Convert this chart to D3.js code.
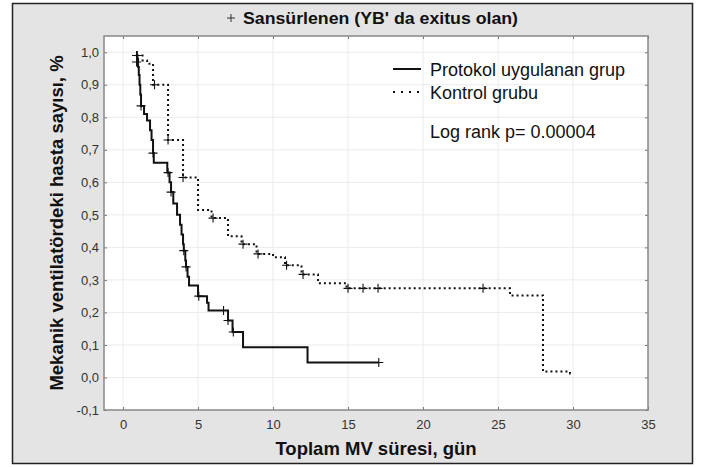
<!DOCTYPE html>
<html><head><meta charset="utf-8">
<script src="https://cdn.jsdelivr.net/npm/d3@7"></script>
<style>
html,body{margin:0;padding:0;background:#fff;}
svg{display:block;}
text{font-family:"Liberation Sans",Arial,sans-serif;}
</style></head>
<body>
<svg id="chart" width="703" height="467"></svg>
<script>
// ---- data ----
const titleText = "Sansürlenen (YB' da exitus olan)";
const xLabel = "Toplam MV süresi, gün";
const yLabel = "Mekanik ventilatördeki hasta sayısı, %";
const seriesNames = ["Protokol uygulanan grup", "Kontrol grubu"];
const logRankText = "Log rank p= 0.00004";
const xTicks = [0, 5, 10, 15, 20, 25, 30, 35];
const yTicks = [-0.1, 0, 0.1, 0.2, 0.3, 0.4, 0.5, 0.6, 0.7, 0.8, 0.9, 1.0];

// Protokol group: step times and survival after each step (last = end of follow-up)
const protokolT = [0.85, 0.95, 1.0, 1.05, 1.1, 1.15, 1.2, 1.4, 1.6, 1.8, 1.9, 2.0, 2.05, 2.95, 3.1, 3.2, 3.35, 3.6, 3.8, 3.9, 4.0, 4.05, 4.15, 4.2, 4.3, 4.4, 5.0, 5.6, 5.7, 7.0, 7.3, 8.0, 12.3, 17.05];
const protokolS = [0.99, 0.98, 0.955, 0.93, 0.90, 0.87, 0.835, 0.81, 0.79, 0.76, 0.73, 0.69, 0.66, 0.63, 0.60, 0.57, 0.535, 0.50, 0.47, 0.44, 0.41, 0.39, 0.36, 0.34, 0.31, 0.283, 0.25, 0.23, 0.206, 0.175, 0.14, 0.093, 0.046, 0.046];
const protokolCensT = [0.9, 0.9, 1.2, 2.0, 3.0, 3.2, 4.05, 4.2, 5.05, 6.7, 7.0, 7.35, 17.05];
const protokolCensS = [0.99, 0.97, 0.835, 0.69, 0.63, 0.57, 0.39, 0.34, 0.25, 0.206, 0.175, 0.14, 0.046];

// Kontrol group
const kontrolT = [0.9, 1.3, 1.6, 2.0, 3.0, 4.0, 5.0, 5.9, 7.0, 7.9, 8.9, 10.0, 10.8, 11.9, 13.0, 14.9, 25.8, 28.0, 29.8, 30.0];
const kontrolS = [0.99, 0.975, 0.965, 0.90, 0.73, 0.615, 0.515, 0.49, 0.434, 0.41, 0.38, 0.37, 0.345, 0.317, 0.29, 0.274, 0.252, 0.018, 0.012, 0.012];
const kontrolCensT = [0.95, 2.1, 3.0, 4.0, 6.0, 8.0, 9.0, 10.9, 12.0, 15.0, 16.0, 17.0, 24.0];
const kontrolCensS = [0.99, 0.90, 0.73, 0.615, 0.49, 0.41, 0.38, 0.345, 0.317, 0.274, 0.274, 0.274, 0.274];

// ---- drawing ----
const svg = d3.select("#chart");
const W = 703, H = 467;
const plot = {left: 104, right: 648, top: 36, bottom: 410};

svg.append("rect").attr("x", 0).attr("y", 0).attr("width", W).attr("height", H).attr("fill", "#ffffff");
svg.append("rect").attr("x", 12.5).attr("y", 3.5).attr("width", 680).attr("height", 460)
  .attr("fill", "#e4e4e4").attr("stroke", "#222").attr("stroke-width", 1.5);

const x = d3.scaleLinear().domain([-1.27, 35]).range([plot.left, plot.right]);
const y = d3.scaleLinear().domain([-0.1, 1.05]).range([plot.bottom, plot.top]);

svg.append("rect").attr("x", plot.left).attr("y", plot.top)
  .attr("width", plot.right - plot.left).attr("height", plot.bottom - plot.top).attr("fill", "#fff");

// grid
const grid = svg.append("g");
grid.selectAll(".gx").data(xTicks.filter(d => d > -1.27 && d < 35)).join("line")
  .attr("x1", d => x(d)).attr("x2", d => x(d)).attr("y1", plot.top).attr("y2", plot.bottom)
  .attr("stroke", "#ebebeb").attr("stroke-width", 1);
grid.selectAll(".gy").data(yTicks.filter(d => d > -0.1)).join("line")
  .attr("x1", plot.left).attr("x2", plot.right).attr("y1", d => y(d)).attr("y2", d => y(d))
  .attr("stroke", "#ebebeb").attr("stroke-width", 1);

// axes (ticks inward)
const fmt = d => d3.format(".1f")(d).replace(".", ",").replace("−", "-");
const axB = svg.append("g").attr("transform", `translate(0,${plot.bottom})`)
  .call(d3.axisBottom(x).tickValues(xTicks).tickSize(-3).tickPadding(10).tickFormat(d3.format("d")));
const axL = svg.append("g").attr("transform", `translate(${plot.left},0)`)
  .call(d3.axisLeft(y).tickValues(yTicks).tickSize(-3).tickPadding(5).tickFormat(fmt));
const axT = svg.append("g").attr("transform", `translate(0,${plot.top})`)
  .call(d3.axisTop(x).tickValues(xTicks).tickSize(-3).tickFormat(""));
const axR = svg.append("g").attr("transform", `translate(${plot.right},0)`)
  .call(d3.axisRight(y).tickValues(yTicks).tickSize(-3).tickFormat(""));
[axB, axL, axT, axR].forEach(a => {
  a.select(".domain").remove();
  a.selectAll(".tick line").attr("stroke", "#777");
  a.selectAll("text").attr("fill", "#333").style("font-size", "13px").style("font-family", '"Liberation Sans",Arial,sans-serif');
});

// plot frame
svg.append("rect").attr("x", plot.left).attr("y", plot.top)
  .attr("width", plot.right - plot.left).attr("height", plot.bottom - plot.top)
  .attr("fill", "none").attr("stroke", "#888").attr("stroke-width", 1.5);

// curves
const line = d3.line().x(d => x(d[0])).y(d => y(d[1])).curve(d3.curveStepAfter);
const kontrol = kontrolT.map((t, i) => [t, kontrolS[i]]);
const protokol = protokolT.map((t, i) => [t, protokolS[i]]);

svg.append("path").datum(kontrol).attr("d", line).attr("fill", "none")
  .attr("stroke", "#111").attr("stroke-width", 2).attr("stroke-dasharray", "2,3");
svg.append("path").datum(protokol).attr("d", line).attr("fill", "none")
  .attr("stroke", "#111").attr("stroke-width", 2);

function plus(g, pts) {
  const s = 4.5;
  g.selectAll("path.c").data(pts).join("path")
    .attr("d", d => `M${x(d[0]) - s},${y(d[1])}H${x(d[0]) + s}M${x(d[0])},${y(d[1]) - s}V${y(d[1]) + s}`)
    .attr("stroke", "#111").attr("stroke-width", 1.1).attr("fill", "none");
}
plus(svg.append("g"), protokolCensT.map((t, i) => [t, protokolCensS[i]]));
plus(svg.append("g"), kontrolCensT.map((t, i) => [t, kontrolCensS[i]]));

// title
const tg = svg.append("g");
tg.append("path").attr("d", "M227,18H235M231,14V22").attr("stroke", "#333").attr("stroke-width", 1);
tg.append("text").attr("x", 243).attr("y", 24).attr("font-weight", "bold").attr("font-size", 16)
  .attr("textLength", 275).attr("lengthAdjust", "spacingAndGlyphs")
  .attr("fill", "#111").text(titleText);

// legend
const lg = svg.append("g");
lg.append("line").attr("x1", 393).attr("x2", 421).attr("y1", 69).attr("y2", 69).attr("stroke", "#111").attr("stroke-width", 2);
lg.append("line").attr("x1", 393).attr("x2", 421).attr("y1", 92).attr("y2", 92).attr("stroke", "#111").attr("stroke-width", 2).attr("stroke-dasharray", "2,6");
lg.append("text").attr("x", 430).attr("y", 75.5).attr("font-size", 18).attr("fill", "#111").text(seriesNames[0]);
lg.append("text").attr("x", 430).attr("y", 98.5).attr("font-size", 18).attr("fill", "#111").text(seriesNames[1]);
lg.append("text").attr("x", 430).attr("y", 137.5).attr("font-size", 18).attr("fill", "#111").text(logRankText);

// axis titles
svg.append("text").attr("x", (plot.left + plot.right) / 2).attr("y", 455).attr("text-anchor", "middle")
  .attr("font-weight", "bold").attr("font-size", 18.5).attr("fill", "#111").text(xLabel);
svg.append("text").attr("transform", `translate(63,${(plot.top + plot.bottom) / 2}) rotate(-90)`)
  .attr("text-anchor", "middle").attr("font-weight", "bold").attr("font-size", 18.5).attr("fill", "#111").text(yLabel);
</script>
</body></html>
